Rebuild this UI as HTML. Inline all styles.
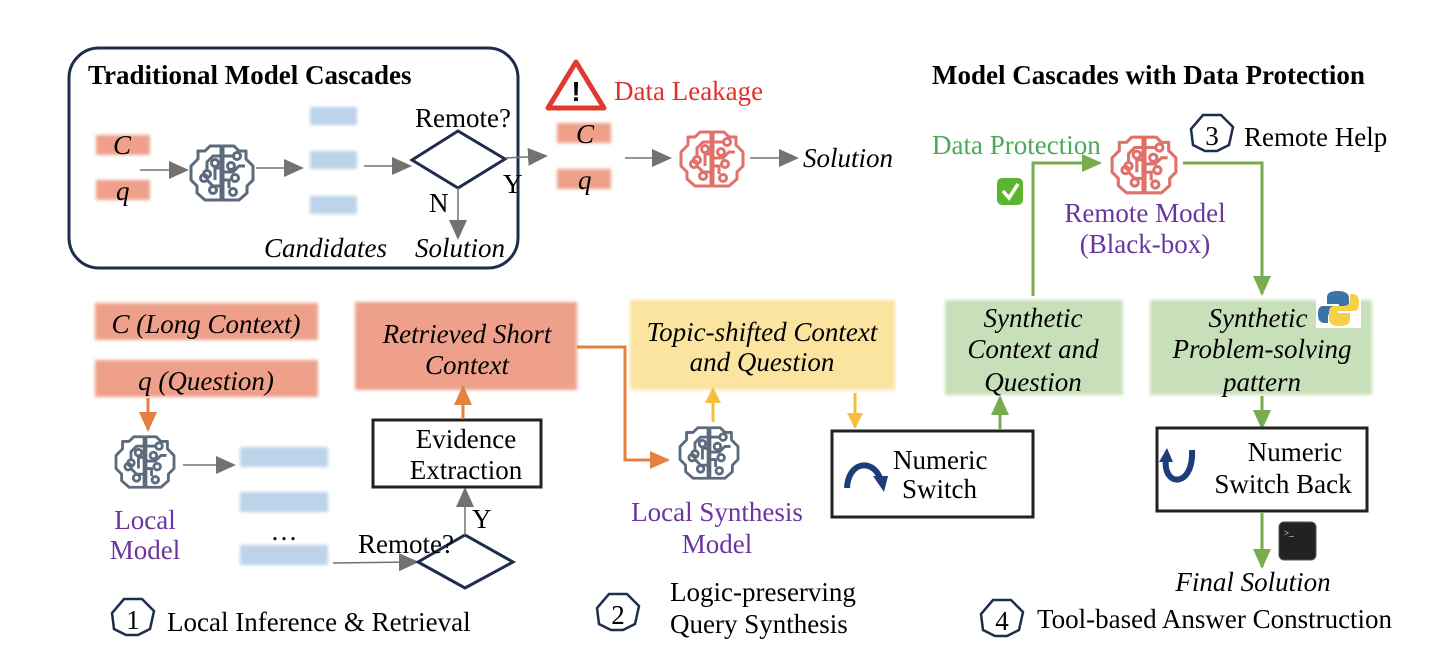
<!DOCTYPE html>
<html><head><meta charset="utf-8"><style>
html,body{margin:0;padding:0;background:#fff}
svg{display:block}
text{font-family:"Liberation Serif",serif;font-size:27px;fill:#000}
.i{font-style:italic}
.p{fill:#6b35a0}
</style></head><body>
<svg width="1432" height="662" viewBox="0 0 1432 662" xmlns="http://www.w3.org/2000/svg">
<defs>
<filter id="bl" x="-10%" y="-20%" width="120%" height="140%"><feGaussianBlur stdDeviation="1.5"/></filter>
<marker id="agb" markerWidth="20" markerHeight="18" refX="18" refY="9" orient="auto" markerUnits="userSpaceOnUse"><path d="M0,0 L20,9 L0,18 Z" fill="#767171"/></marker>
<marker id="ao" markerWidth="20" markerHeight="18" refX="18" refY="9" orient="auto" markerUnits="userSpaceOnUse"><path d="M0,0 L20,9 L0,18 Z" fill="#e4813e"/></marker>
<marker id="ay" markerWidth="16" markerHeight="16" refX="14" refY="8" orient="auto" markerUnits="userSpaceOnUse"><path d="M0,0 L16,8 L0,16 Z" fill="#f5bf3a"/></marker>
<marker id="agr" markerWidth="20" markerHeight="18" refX="18" refY="9" orient="auto" markerUnits="userSpaceOnUse"><path d="M0,0 L20,9 L0,18 Z" fill="#79ab4f"/></marker>
<symbol id="brain" viewBox="0 0 70 62">
<g fill="none" stroke-width="3" stroke-linejoin="round">
<path d="M34,4 L23,4 L18,9 L11,9 L11,17 L4,24 L4,38 L10,44 L10,51 L18,58 L34,58 Z"/>
<path d="M36,4 L47,4 L52,9 L59,9 L59,17 L66,24 L66,38 L60,44 L60,51 L52,58 L36,58 Z"/>
<path d="M34,14 L26,14 L20,20 L20,28"/><circle cx="20" cy="32" r="3.5"/>
<path d="M34,26 L28,26 L28,38"/><circle cx="28" cy="21" r="3.5"/>
<path d="M34,44 L26,44 L20,38"/><circle cx="17" cy="36" r="3.5"/>
<circle cx="26" cy="48" r="3.5"/>
<path d="M36,14 L46,14"/><circle cx="50" cy="14" r="3.5"/>
<path d="M36,30 L46,30 L52,24 L58,24"/><circle cx="44" cy="24" r="3.5"/>
<path d="M36,38 L42,38 L42,46"/><circle cx="48" cy="36" r="3.5"/>
<circle cx="46" cy="50" r="3.5"/>
</g>
</symbol>
<symbol id="hex" viewBox="0 0 46 40">
<path d="M14,2 L32,2 L44,14 L40,32 L28,38 L16,38 L4,32 L2,16 Z" fill="#fff" stroke="#1f2d4d" stroke-width="2.5"/>
</symbol>
</defs>

<rect x="69" y="48" width="449" height="220" rx="30" fill="none" stroke="#1f2d4d" stroke-width="3"/>
<text x="88" y="84" font-weight="bold">Traditional Model Cascades</text>
<g filter="url(#bl)" fill="#eea08a">
<rect x="96" y="135" width="54" height="20"/><rect x="96" y="180" width="54" height="20"/>
<rect x="557" y="123" width="54" height="20"/><rect x="557" y="169" width="54" height="20"/>
</g>
<g filter="url(#bl)" fill="#bcd3ea">
<rect x="310" y="107" width="47" height="18"/><rect x="310" y="151" width="47" height="18"/><rect x="310" y="196" width="47" height="18"/>
</g>
<text x="113" y="154" class="i">C</text><text x="116" y="200" class="i">q</text>
<line x1="140" y1="170" x2="187" y2="170" stroke="#767171" stroke-width="1.5" marker-end="url(#agb)"/>
<use href="#brain" x="187" y="142" width="70" height="62" stroke="#5c6a7d"/>
<line x1="256" y1="168" x2="302" y2="168" stroke="#767171" stroke-width="1.5" marker-end="url(#agb)"/>
<line x1="364" y1="166" x2="410" y2="166" stroke="#767171" stroke-width="1.5" marker-end="url(#agb)"/>
<path d="M412,160 L458,131 L505,159 L458,188 Z" fill="#fff" stroke="#1f2d4d" stroke-width="3"/>
<text x="415" y="127">Remote?</text>
<line x1="505" y1="158" x2="546" y2="156" stroke="#767171" stroke-width="1.5" marker-end="url(#agb)"/>
<text x="503" y="193">Y</text>
<line x1="458" y1="188" x2="458" y2="238" stroke="#767171" stroke-width="1.5" marker-end="url(#agb)"/>
<text x="429" y="212">N</text>
<text x="264" y="257" class="i">Candidates</text>
<text x="415" y="257" class="i">Solution</text>
<path d="M576,62 L604,108 L548,108 Z" fill="#fff" stroke="#e03a2f" stroke-width="5" stroke-linejoin="round"/>
<text x="576" y="101" text-anchor="middle" font-weight="bold" style="font-size:28px;font-family:'Liberation Sans',sans-serif">!</text>
<text x="614" y="100" style="fill:#e0302a">Data Leakage</text>
<text x="576" y="143" class="i">C</text><text x="578" y="189" class="i">q</text>
<line x1="625" y1="158" x2="670" y2="158" stroke="#767171" stroke-width="1.5" marker-end="url(#agb)"/>
<use href="#brain" x="677" y="128" width="70" height="62" stroke="#e0706a"/>
<line x1="750" y1="158" x2="797" y2="158" stroke="#767171" stroke-width="1.5" marker-end="url(#agb)"/>
<text x="803" y="167" class="i">Solution</text>

<text x="932" y="84" font-weight="bold">Model Cascades with Data Protection</text>
<text x="932" y="154" style="fill:#4ca85a">Data Protection</text>
<rect x="997" y="178" width="26" height="27" rx="5" fill="#5cb531"/>
<path d="M1003,191 L1009,198 L1018,184" fill="none" stroke="#fff" stroke-width="3.5"/>
<path d="M1033,296 L1033,163 L1100,163" fill="none" stroke="#79ab4f" stroke-width="3" marker-end="url(#agr)"/>
<use href="#brain" x="1108" y="133" width="72" height="64" stroke="#e0706a"/>
<path d="M1183,163 L1262,163 L1262,294" fill="none" stroke="#79ab4f" stroke-width="3" marker-end="url(#agr)"/>
<use href="#hex" x="1189" y="113" width="46" height="40"/>
<text x="1212" y="145" text-anchor="middle">3</text>
<text x="1244" y="146">Remote Help</text>
<text x="1145" y="222" text-anchor="middle" class="p">Remote Model</text>
<text x="1145" y="253" text-anchor="middle" class="p">(Black-box)</text>

<g filter="url(#bl)">
<rect x="95" y="303" width="223" height="37" fill="#eea08a"/>
<rect x="95" y="360" width="223" height="37" fill="#eea08a"/>
<rect x="355" y="302" width="222" height="88" fill="#eea08a"/>
<rect x="630" y="300" width="265" height="90" fill="#fbe3a0"/>
<rect x="945" y="300" width="178" height="95" fill="#c8e0b9"/>
<rect x="1150" y="300" width="222" height="95" fill="#c8e0b9"/>
<rect x="240" y="447" width="88" height="20" fill="#bcd3ea"/>
<rect x="240" y="492" width="88" height="20" fill="#bcd3ea"/>
<rect x="240" y="545" width="88" height="20" fill="#bcd3ea"/>
</g>
<text x="206" y="333" text-anchor="middle" class="i">C (Long Context)</text>
<text x="206" y="390" text-anchor="middle" class="i">q (Question)</text>
<text x="467" y="343" text-anchor="middle" class="i">Retrieved Short</text>
<text x="467" y="374" text-anchor="middle" class="i">Context</text>
<text x="762" y="341" text-anchor="middle" class="i">Topic-shifted Context</text>
<text x="762" y="371" text-anchor="middle" class="i">and Question</text>
<text x="1033" y="327" text-anchor="middle" class="i">Synthetic</text>
<text x="1033" y="358" text-anchor="middle" class="i">Context and</text>
<text x="1033" y="391" text-anchor="middle" class="i">Question</text>
<text x="1258" y="327" text-anchor="middle" class="i">Synthetic</text>
<text x="1262" y="358" text-anchor="middle" class="i">Problem-solving</text>
<text x="1262" y="391" text-anchor="middle" class="i">pattern</text>
<rect x="1316" y="288" width="45" height="40" fill="#fff"/>
<path d="M1338,291 C1326,291 1327,296 1327,300 L1327,304 L1339,304 L1339,306 L1323,306 C1318,306 1318,312 1318,315 C1318,320 1320,323 1325,323 L1328,323 L1328,317 C1328,313 1331,311 1335,311 L1343,311 C1347,311 1349,309 1349,305 L1349,298 C1349,293 1344,291 1338,291 Z" fill="#3b72a8"/>
<path d="M1339,326 C1351,326 1350,321 1350,317 L1350,313 L1338,313 L1338,311 L1354,311 C1359,311 1359,305 1359,302 C1359,297 1357,294 1352,294 L1350,294 L1350,300 C1350,304 1347,306 1343,306 L1335,306 C1331,306 1329,308 1329,312 L1329,319 C1329,324 1333,326 1339,326 Z" fill="#f7d04a"/>

<line x1="148" y1="398" x2="148" y2="430" stroke="#e4813e" stroke-width="3" marker-end="url(#ao)"/>
<use href="#brain" x="112" y="433" width="66" height="58" stroke="#5c6a7d"/>
<text x="145" y="529" text-anchor="middle" class="p">Local</text>
<text x="145" y="559" text-anchor="middle" class="p">Model</text>
<line x1="183" y1="465" x2="234" y2="465" stroke="#767171" stroke-width="1.5" marker-end="url(#agb)"/>
<text x="284" y="540" text-anchor="middle">…</text>
<line x1="333" y1="563" x2="417" y2="562" stroke="#767171" stroke-width="1.5" marker-end="url(#agb)"/>
<path d="M418,562 L465,535 L513,562 L465,588 Z" fill="#fff" stroke="#1f2d4d" stroke-width="3"/>
<text x="358" y="553">Remote?</text>
<line x1="465" y1="535" x2="465" y2="489" stroke="#767171" stroke-width="1.5" marker-end="url(#agb)"/>
<text x="472" y="528">Y</text>
<rect x="373" y="420" width="168" height="67" fill="#fff" stroke="#222" stroke-width="3"/>
<text x="466" y="448" text-anchor="middle">Evidence</text>
<text x="466" y="479" text-anchor="middle">Extraction</text>
<line x1="463" y1="419" x2="463" y2="387" stroke="#e4813e" stroke-width="3" marker-end="url(#ao)"/>
<path d="M577,347 L625,347 L625,460 L668,460" fill="none" stroke="#e4813e" stroke-width="3" marker-end="url(#ao)"/>
<use href="#brain" x="676" y="424" width="66" height="58" stroke="#5c6a7d"/>
<line x1="713" y1="422" x2="713" y2="389" stroke="#f5bf3a" stroke-width="3" marker-end="url(#ay)"/>
<text x="717" y="521" text-anchor="middle" class="p">Local Synthesis</text>
<text x="717" y="553" text-anchor="middle" class="p">Model</text>
<line x1="855" y1="393" x2="855" y2="427" stroke="#f5bf3a" stroke-width="3" marker-end="url(#ay)"/>

<rect x="832" y="431" width="201" height="86" fill="#fff" stroke="#222" stroke-width="3"/>
<path d="M847,488 C848,462 872,458 880,478" fill="none" stroke="#1f3d7a" stroke-width="6"/>
<path d="M873,476 L888,476 L884,492 Z" fill="#1f3d7a"/>
<text x="893" y="469">Numeric</text>
<text x="902" y="498">Switch</text>
<line x1="1000" y1="430" x2="1000" y2="397" stroke="#79ab4f" stroke-width="3" marker-end="url(#agr)"/>
<line x1="1262" y1="396" x2="1262" y2="428" stroke="#79ab4f" stroke-width="3" marker-end="url(#agr)"/>
<rect x="1157" y="428" width="210" height="83" fill="#fff" stroke="#222" stroke-width="3"/>
<path d="M1192,450 C1194,488 1162,488 1166,458" fill="none" stroke="#1f3d7a" stroke-width="6"/>
<path d="M1159,462 L1173,462 L1167,448 Z" fill="#1f3d7a"/>
<text x="1295" y="461" text-anchor="middle">Numeric</text>
<text x="1283" y="493" text-anchor="middle">Switch Back</text>
<line x1="1262" y1="512" x2="1262" y2="567" stroke="#79ab4f" stroke-width="3" marker-end="url(#agr)"/>
<rect x="1279" y="522" width="37" height="38" rx="5" fill="#222" stroke="#555"/>
<text x="1284" y="536" style="font-size:9px;fill:#fff">&gt;_</text>
<text x="1253" y="591" text-anchor="middle" class="i">Final Solution</text>

<use href="#hex" x="110" y="597" width="46" height="40"/>
<text x="133" y="629" text-anchor="middle">1</text>
<text x="167" y="631">Local Inference &amp; Retrieval</text>
<use href="#hex" x="595" y="592" width="46" height="40"/>
<text x="618" y="624" text-anchor="middle">2</text>
<text x="670" y="601">Logic-preserving</text>
<text x="670" y="633">Query Synthesis</text>
<use href="#hex" x="979" y="598" width="46" height="40"/>
<text x="1002" y="630" text-anchor="middle">4</text>
<text x="1037" y="628">Tool-based Answer Construction</text>
</svg>
</body></html>
